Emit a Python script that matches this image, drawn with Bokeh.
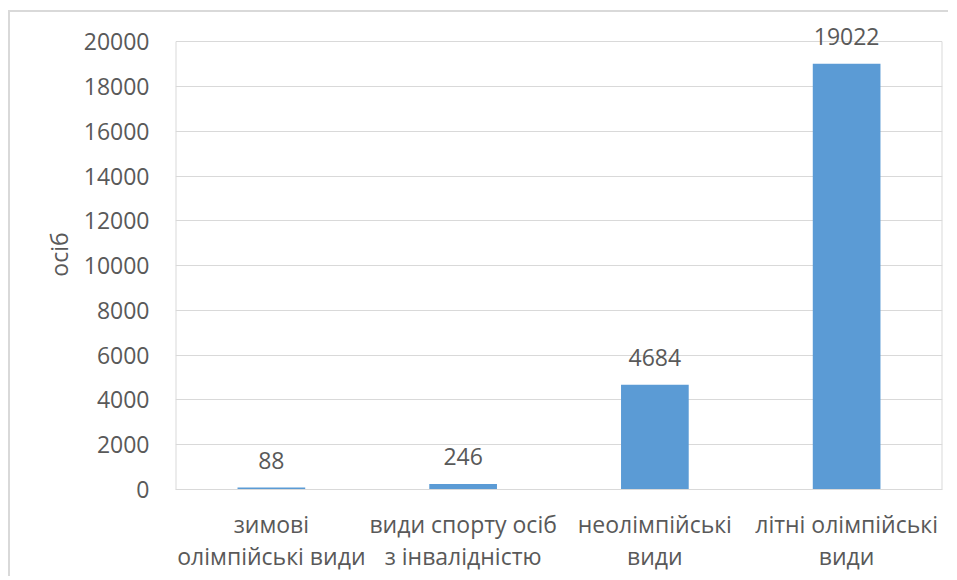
from bokeh.plotting import figure
from bokeh.models import ColumnDataSource, LabelSet, FixedTicker
from bokeh.core.properties import value
from bokeh.embed import file_html
from bokeh.resources import INLINE

categories = ["зимові\nолімпійські види", "види спорту осіб\nз інвалідністю", "неолімпійські\nвиди", "літні олімпійські\nвиди"]
values = [88, 246, 4684, 19022]
y_ticks = [0, 2000, 4000, 6000, 8000, 10000, 12000, 14000, 16000, 18000, 20000]
y_max = 20000

FONT = "Open Sans"
TXT = "#595959"
GRID = "#d9d9d9"

src = ColumnDataSource(dict(cat=categories, val=values, lab=[str(v) for v in values]))

p = figure(x_range=categories, y_range=(0, 21000), width=940, height=566,
           output_backend="svg", toolbar_location=None,
           min_border_left=165, min_border_right=8, min_border_top=7, min_border_bottom=89)
p.styles = {"margin-left": "8px", "margin-top": "10px",
            "border-left": "2px solid #d9d9d9", "border-top": "2px solid #d9d9d9"}

# plot-area box edges (synthetic categorical coordinates 0 .. n), up to the top tick
n = len(categories)
p.segment(x0=[0, n], y0=[0, 0], x1=[0, n], y1=[y_max, y_max],
          line_color=GRID, line_width=2)

p.vbar(x="cat", top="val", width=0.353, source=src, fill_color="#5b9bd5", line_color=None)

labels = LabelSet(x="cat", y="val", text="lab", source=src, text_align="center",
                  text_baseline="bottom", y_offset=19, text_font=value(FONT),
                  text_font_size=value("23px"), text_color=TXT)
p.add_layout(labels)

p.outline_line_color = None
p.xgrid.grid_line_color = None
p.ygrid.grid_line_color = GRID
p.ygrid.ticker = FixedTicker(ticks=y_ticks)
p.yaxis.ticker = FixedTicker(ticks=y_ticks)

for ax in (p.xaxis, p.yaxis):
    ax.major_tick_line_color = None
    ax.minor_tick_line_color = None
    ax.major_label_text_font = FONT
    ax.major_label_text_font_size = "23px"
    ax.major_label_text_color = TXT
    ax.axis_label_text_font = FONT
    ax.axis_label_text_color = TXT
    ax.axis_label_text_font_style = "normal"

p.yaxis.axis_line_color = None
p.xaxis.axis_line_color = GRID
p.yaxis.major_label_standoff = 20
p.xaxis.major_label_standoff = 12
p.xaxis.major_label_text_line_height = 1.0
p.yaxis.axis_label = "осіб"
p.yaxis.axis_label_text_font_size = "23px"
p.yaxis.axis_label_standoff = 6

open("out.html", "w").write(file_html(p, INLINE))
